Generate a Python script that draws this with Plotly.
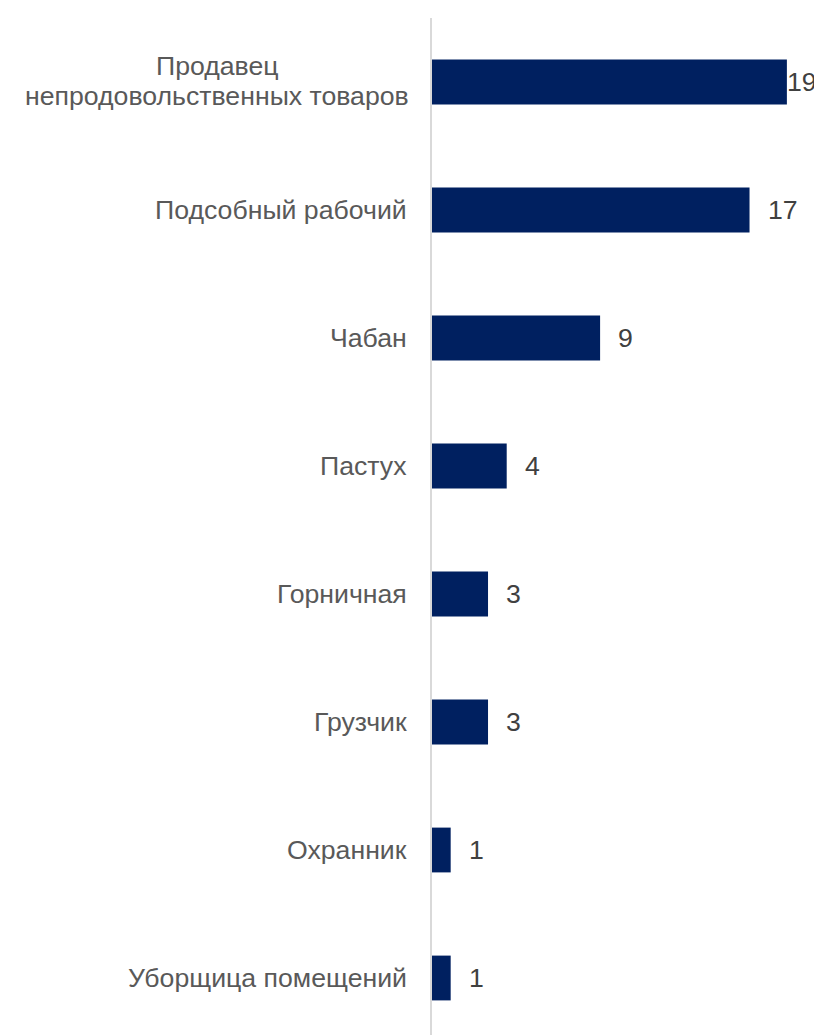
import plotly.graph_objects as go

categories = [
    "Продавец<br>непродовольственных товаров",
    "Подсобный рабочий",
    "Чабан",
    "Пастух",
    "Горничная",
    "Грузчик",
    "Охранник",
    "Уборщица помещений",
]
values = [19, 17, 9, 4, 3, 3, 1, 1]

# page body has an 8px default margin; compensate so the chart fills the window
W, H = 814, 1027
L, T = 424, 10
XMAX = 20.88
px_per_unit = (W - L) / XMAX
FONT = "Liberation Sans, Arial, sans-serif"
FS = 26.67
LINE_GAP = 30

fig = go.Figure()
fig.add_trace(go.Bar(
    x=values,
    y=list(range(len(categories))),
    orientation="h",
    marker=dict(color="#002060", line=dict(width=0)),
    width=0.35,
    hoverinfo="skip",
))

annotations = []
for i, v in enumerate(values):
    room = (XMAX - v) * px_per_unit
    shift = 16 if room > 50 else -2
    annotations.append(dict(
        x=v, y=i, xref="x", yref="y", text=str(v), showarrow=False,
        xanchor="left", yanchor="middle", xshift=shift,
        font=dict(family=FONT, size=FS, color="#404040"),
    ))

for i, cat in enumerate(categories):
    lines = cat.split("<br>")
    k = len(lines)
    if k == 1:
        annotations.append(dict(
            x=0, y=i, xref="paper", yref="y", text=cat, showarrow=False,
            xanchor="right", yanchor="middle", xshift=-23,
            font=dict(family=FONT, size=FS, color="#595959"),
        ))
    else:
        for j, ln in enumerate(lines):
            dy = ((k - 1) / 2 - j) * LINE_GAP
            annotations.append(dict(
                x=0, y=i, xref="paper", yref="y", text=ln, showarrow=False,
                xanchor="center", yanchor="middle", yshift=dy + 1,
                xshift=-23 - 0.5 * 384,
                font=dict(family=FONT, size=FS, color="#595959"),
            ))

n = len(categories)

fig.update_layout(
    template="none",
    width=W, height=H,
    margin=dict(l=L, r=0, t=T, b=0, pad=0),
    paper_bgcolor="white", plot_bgcolor="white",
    showlegend=False,
    annotations=annotations,
    xaxis=dict(range=[0, XMAX], visible=False, showgrid=False, zeroline=False, automargin=False),
    yaxis=dict(
        range=[-0.5 + (H - T) / 128.0, -0.5],
        tickvals=list(range(n)), showticklabels=False,
        showgrid=False, zeroline=False, automargin=False,
        showline=True, linecolor="#d9d9d9", linewidth=2,
        ticks="",
    ),
)

fig.write_html("out.html")
